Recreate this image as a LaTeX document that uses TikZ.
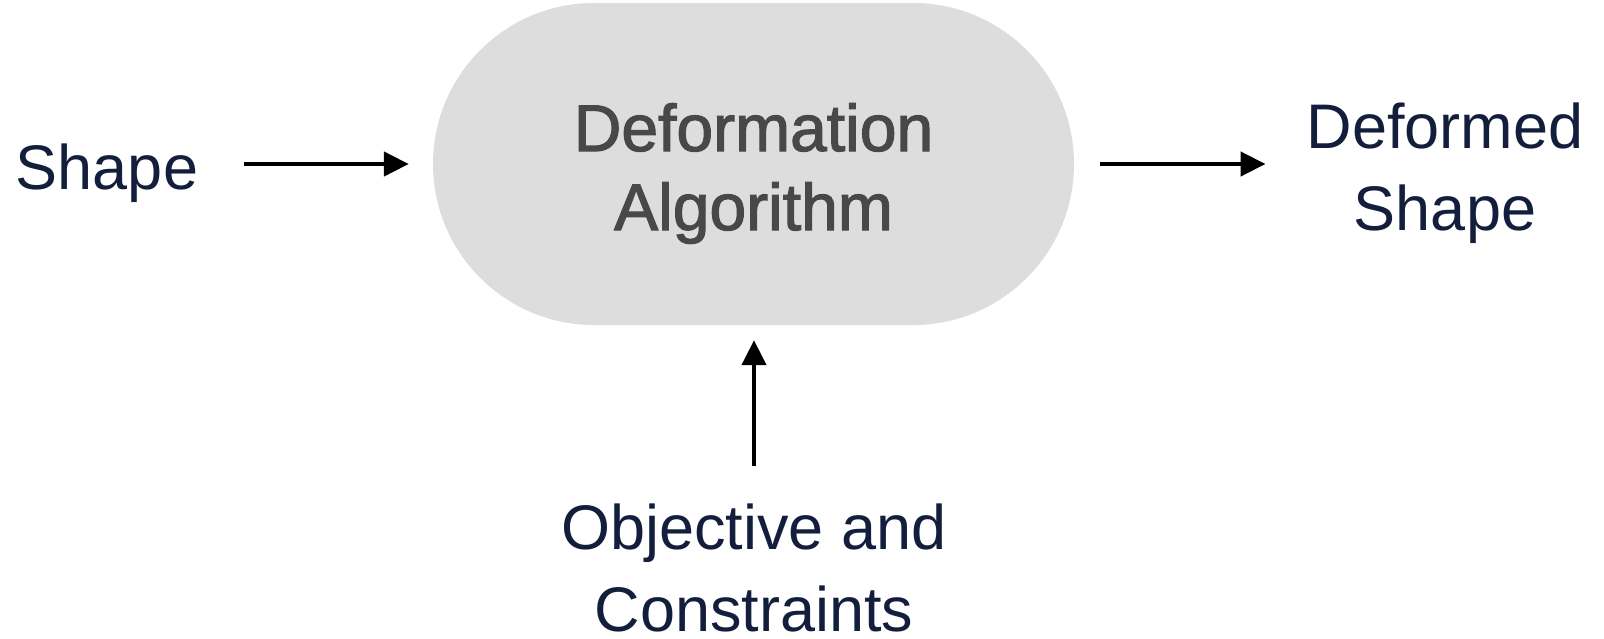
\documentclass[tikz,border=0pt]{standalone}
\usepackage{fontspec}
\setmainfont{Liberation Sans}
\newfontfamily\medfont{Liberation Sans}[FakeBold=1.8]
\usetikzlibrary{arrows.meta}
\definecolor{labelblue}{RGB}{18,30,60}
\definecolor{pillgray}{RGB}{221,221,221}
\definecolor{pilltext}{RGB}{72,72,72}
\tikzset{
  label/.style={inner sep=0pt, align=center, text=labelblue,
    font=\fontsize{63}{82}\selectfont},
  pill/.style={fill=pillgray, minimum width=641pt, minimum height=322pt,
    rounded corners=161pt, inner sep=0pt},
  pilllabel/.style={inner sep=0pt, align=center, text=pilltext,
    font=\medfont\fontsize{66}{79}\selectfont},
  arr/.style={line width=4.5pt, -{Triangle[length=25pt,width=24pt]}},
}
\begin{document}
\begin{tikzpicture}[x=1pt,y=-1pt]
  \useasboundingbox (0,0) rectangle (1604,638);
  % the algorithm block and its two-line caption
  \node[pill] (alg) at (753.5,164) {};
  \node[pilllabel, anchor=base] (algtext) at (753.5,230) {Deformation\\Algorithm};
  % inputs and output (base anchor = baseline of the last line)
  \node[label, anchor=base] (shape) at (107,189) {Shape};
  \node[label, anchor=base] (out) at (1445,230) {Deformed\\Shape};
  \node[label, anchor=base] (obj) at (754,631) {Objective and\\Constraints};
  \draw[arr, shorten <=46pt, shorten >=24pt] (shape.east |- alg) -- (alg.west);
  \draw[arr, shorten <=26pt, shorten >=41pt] (alg.east) -- (out.west |- alg.east);
  \draw[arr, shorten <=37pt, shorten >=15pt] (obj.north) -- (obj.north |- alg.south);
\end{tikzpicture}
\end{document}
